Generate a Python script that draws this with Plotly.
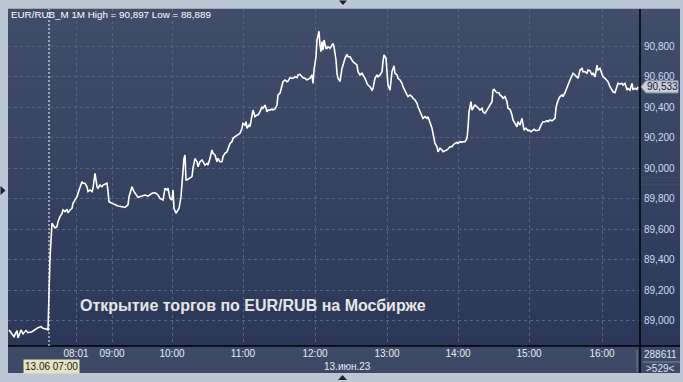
import plotly.graph_objects as go

# ---- data (1-minute bars, EUR/RUB_M, 13.06.2023) ----
bars = [1, 4, 6, 9, 10, 13, 15, 18, 20, 24, 27, 30, 33, 35, 38, 40,
        42, 43, 44, 45, 47, 49, 50, 52, 54, 55, 57, 59, 60, 62, 64, 65, 67, 69, 70, 72, 74, 75, 77, 79,
        80, 82, 84, 85, 87, 89, 90, 92, 94, 95, 97, 99, 100, 101, 104, 107, 110, 114, 117, 120,
        121, 123, 124, 126, 128, 130, 134, 137, 140, 144, 147, 150, 152, 155, 157, 159, 160, 162, 164, 165,
        166, 168, 169, 171, 173, 174, 175, 176, 177, 178, 179, 181, 184, 185, 187, 189, 190, 192, 194, 195,
        197, 199, 200, 202, 204, 205, 207, 209, 210, 212, 214, 215, 217, 219, 220, 222, 224, 225, 227, 229,
        230, 232, 234, 235, 237, 238, 239, 241, 242, 244, 245, 246, 247, 249, 250, 252, 254, 255, 257, 259,
        260, 262, 264, 265, 267, 269, 270, 272, 274, 275, 277, 279, 280, 282, 284, 285, 287, 289, 290, 292,
        294, 295, 297, 299, 300, 302, 304, 305, 306, 308, 309, 310, 311, 312, 313, 314, 315, 316, 318, 319,
        320, 322, 324, 325, 326, 328, 329, 330, 332, 333, 334, 336, 337, 339, 340, 342, 344, 345, 347, 349,
        350, 352, 354, 355, 357, 359, 360, 362, 364, 365, 367, 369, 370, 372, 374, 375, 376, 378, 379, 380,
        382, 383, 384, 386, 387, 389, 390, 392, 394, 395, 397, 399, 400, 402, 404, 405, 407, 409, 410, 412,
        414, 415, 417, 419, 420, 422, 424, 425, 427, 429, 430, 432, 434, 435, 437, 439, 440, 442, 444, 445,
        447, 449, 450, 452, 454, 455, 457, 459, 460, 461, 463, 464, 465, 467, 469, 470, 472, 474, 475, 477,
        479, 480, 482, 484, 485, 486, 488, 489, 491, 492, 494, 495, 497, 499, 500, 502, 504, 505, 507, 509,
        510, 512, 514, 515, 516, 518, 520, 521, 523, 525, 526, 528, 530, 531, 533, 534, 535, 537, 539, 540,
        542, 544, 545, 547, 548, 549, 551, 552, 554, 555, 557, 559, 560, 562, 564, 565, 567, 569, 570, 572,
        574, 575, 577, 579, 580, 582, 584, 585, 587, 589, 590, 592, 594, 595, 597, 599, 600, 602, 604, 605,
        607, 609, 610, 612, 614, 615, 617, 619, 620, 622, 624, 625, 627, 629, 630]

prices = [88941, 88919, 88897, 88937, 88889, 88941, 88915, 88937, 88923, 88930, 88946, 88956, 88963, 88952, 88948, 88941,
          89412, 89498, 89640, 89629, 89609, 89617, 89650, 89683, 89705, 89727, 89716, 89731, 89709, 89727, 89738, 89771, 89792, 89814, 89836, 89879, 89912, 89902, 89902, 89879,
          89847, 89858, 89847, 89869, 89967, 89879, 89869, 89890, 89879, 89890, 89897, 89902, 89847, 89781, 89771, 89760, 89753, 89748, 89744, 89760,
          89814, 89858, 89879, 89847, 89825, 89810, 89818, 89825, 89818, 89836, 89840, 89825, 89803, 89792, 89869, 89858, 89869, 89803, 89792, 89858,
          89738, 89705, 89716, 89738, 89814, 89912, 90000, 90065, 90087, 89923, 89923, 89934, 89945, 90000, 90065, 90043, 90010, 90043, 90054, 90043,
          90021, 90032, 90021, 90065, 90120, 90098, 90087, 90043, 90065, 90043, 90043, 90076, 90098, 90108, 90131, 90163, 90174, 90196, 90207, 90218,
          90218, 90229, 90262, 90294, 90283, 90305, 90262, 90283, 90272, 90349, 90381, 90360, 90338, 90349, 90349, 90370, 90403, 90393, 90414, 90370,
          90381, 90381, 90388, 90381, 90388, 90414, 90480, 90491, 90534, 90567, 90578, 90567, 90571, 90593, 90589, 90589, 90599, 90593, 90611, 90615,
          90599, 90593, 90589, 90578, 90584, 90589, 90611, 90556, 90643, 90730, 90840, 90872, 90897, 90807, 90763, 90829, 90774, 90840, 90785, 90785,
          90796, 90785, 90807, 90818, 90796, 90709, 90622, 90589, 90567, 90611, 90654, 90698, 90720, 90746, 90730, 90730, 90709, 90698, 90687, 90676,
          90632, 90611, 90622, 90611, 90589, 90556, 90545, 90534, 90512, 90523, 90589, 90611, 90599, 90611, 90632, 90698, 90742, 90720, 90611, 90545,
          90512, 90567, 90632, 90671, 90622, 90611, 90589, 90578, 90556, 90534, 90501, 90480, 90469, 90480, 90469, 90458, 90447, 90425, 90403, 90370,
          90349, 90327, 90338, 90327, 90338, 90305, 90262, 90229, 90163, 90141, 90108, 90131, 90120, 90108, 90113, 90120, 90126, 90141, 90141, 90152,
          90163, 90170, 90163, 90174, 90170, 90174, 90174, 90196, 90262, 90370, 90436, 90381, 90393, 90414, 90403, 90393, 90381, 90393, 90370, 90360,
          90381, 90393, 90414, 90436, 90512, 90517, 90501, 90495, 90495, 90480, 90469, 90458, 90469, 90436, 90393, 90386, 90349, 90316, 90294, 90272,
          90305, 90283, 90327, 90272, 90250, 90262, 90246, 90250, 90239, 90250, 90255, 90246, 90250, 90250, 90283, 90298, 90305, 90305, 90311, 90305,
          90316, 90311, 90316, 90327, 90393, 90425, 90458, 90469, 90480, 90469, 90495, 90523, 90545, 90578, 90611, 90622, 90611, 90599, 90589, 90643,
          90654, 90632, 90632, 90622, 90643, 90639, 90611, 90622, 90599, 90676, 90643, 90654, 90611, 90599, 90589, 90578, 90567, 90534, 90512, 90501,
          90495, 90534, 90556, 90552, 90556, 90545, 90556, 90512, 90523, 90512, 90556, 90517, 90523, 90517, 90533]

tick_bars = [68, 104, 164, 235, 307, 379, 450, 521, 594]
tick_labels = ["08:01", "09:00", "10:00", "11:00", "12:00", "13:00", "14:00", "15:00", "16:00"]
y_ticks = [89000, 89200, 89400, 89600, 89800, 90000, 90200, 90400, 90600, 90800]
y_tick_labels = ["89,000", "89,200", "89,400", "89,600", "89,800", "90,000", "90,200", "90,400", "90,600", "90,800"]
open_bar = 41
last_price = 90533
last_price_label = "90,533"
title_text = "EUR/RUB_M 1M High = 90,897 Low = 88,889"
note_text = "Открытие торгов по EUR/RUB на Мосбирже"
date_label = "13.06 07:00"
day_label = "13.июн.23"
corner_top = "288611"
corner_bottom = ">529<"

FONT = "Liberation Sans, Arial, sans-serif"

# ---- pixel helpers for decorations ----
W, H = 683, 382
L, R, T, B = 8, 640, 9, 346
def px(x):
    return (x - L) / (R - L)
def py(y):
    return (B - y) / (B - T)

fig = go.Figure()
fig.add_trace(go.Scatter(x=bars, y=prices, mode="lines",
                         line=dict(color="#ffffff", width=1.6), hoverinfo="skip"))

shapes = []
# gradient background (plot + right panel)
n = 48
top_c = (0x41, 0x4e, 0x6a)
bot_c = (0x2b, 0x37, 0x57)
for i in range(n):
    t = (i + 0.5) / n
    c = tuple(int(round(top_c[k] + (bot_c[k] - top_c[k]) * t)) for k in range(3))
    y0 = 1 - i / n
    y1 = 1 - (i + 1) / n
    shapes.append(dict(type="rect", xref="paper", yref="paper", x0=0, x1=px(680),
                       y0=y1 - 0.001, y1=y0 + 0.001, fillcolor="rgb(%d,%d,%d)" % c,
                       line=dict(width=0), layer="below"))
# bottom axis panel
shapes.append(dict(type="rect", xref="paper", yref="paper", x0=0, x1=px(680), y0=py(373), y1=0,
                   fillcolor="#3d4a66", line=dict(width=0), layer="below"))
# separators
shapes.append(dict(type="line", xref="paper", yref="paper", x0=1, x1=1, y0=py(373), y1=1,
                   line=dict(color="#000000", width=1.5)))
shapes.append(dict(type="line", xref="paper", yref="paper", x0=0, x1=px(680), y0=0, y1=0,
                   line=dict(color="#000000", width=1.5)))
shapes.append(dict(type="line", xref="paper", yref="paper", x0=px(637), x1=px(637), y0=py(350), y1=py(372),
                   line=dict(color="#6e7b93", width=1)))
shapes.append(dict(type="line", xref="paper", yref="paper", x0=px(643), x1=px(680), y0=py(362), y1=py(362),
                   line=dict(color="#7d8aa2", width=1)))
# session opening line
shapes.append(dict(type="line", xref="x", yref="paper", x0=open_bar, x1=open_bar, y0=0, y1=1,
                   line=dict(color="#ffffff", width=1, dash="2px,2px")))
# navigation triangles
shapes.append(dict(type="path", xref="paper", yref="paper",
                   path="M %f,%f L %f,%f L %f,%f Z" % (px(339), py(0.5), px(347), py(0.5), px(343), py(5)),
                   fillcolor="#1b2233", line=dict(width=0)))
shapes.append(dict(type="path", xref="paper", yref="paper",
                   path="M %f,%f L %f,%f L %f,%f Z" % (px(338), py(380), px(347), py(380), px(342.5), py(375)),
                   fillcolor="#1b2233", line=dict(width=0)))
shapes.append(dict(type="path", xref="paper", yref="paper",
                   path="M %f,%f L %f,%f L %f,%f Z" % (px(0.5), py(186), px(0.5), py(195), px(5.5), py(190.5)),
                   fillcolor="#1b2233", line=dict(width=0)))
# price tag
shapes.append(dict(type="path", xref="paper", xsizemode="pixel", xanchor=1,
                   yref="y", ysizemode="pixel", yanchor=last_price,
                   path="M 1,0 L 6,6 L 38,6 L 38,-6 L 6,-6 Z",
                   fillcolor="#c9ced6", line=dict(color="#9aa3b0", width=1)))

annotations = [
    dict(text=title_text, xref="paper", yref="paper", x=px(9), y=py(15), xanchor="left", yanchor="middle",
         showarrow=False, font=dict(family=FONT, size=9.8, color="#ffffff")),
    dict(text="<b>" + note_text + "</b>", xref="paper", yref="paper", x=px(253), y=py(305),
         xanchor="center", yanchor="middle",
         showarrow=False, font=dict(family=FONT, size=16, color="#e6e6e6")),
    dict(text=date_label, xref="paper", yref="paper", x=px(23), y=py(366.5), xanchor="left", yanchor="middle",
         showarrow=False, bgcolor="#e6e2c2", borderpad=1, font=dict(family=FONT, size=10, color="#1a1a1a")),
    dict(text=day_label, xref="paper", yref="paper", x=px(347), y=py(366.5), xanchor="center", yanchor="middle",
         showarrow=False, font=dict(family=FONT, size=10, color="#e6edf5")),
    dict(text=corner_top, xref="paper", yref="paper", x=px(660), y=py(354), xanchor="center", yanchor="middle",
         showarrow=False, font=dict(family=FONT, size=10, color="#dde6f2")),
    dict(text=corner_bottom, xref="paper", yref="paper", x=px(660), y=py(368), xanchor="center", yanchor="middle",
         showarrow=False, font=dict(family=FONT, size=10, color="#dde6f2")),
    dict(text=last_price_label, xref="paper", yref="y", x=px(645), y=last_price,
         xanchor="left", yanchor="middle", showarrow=False,
         font=dict(family=FONT, size=10, color="#14203a")),
]

fig.update_layout(
    width=W, height=H,
    margin=dict(l=L, r=W - R, t=T, b=H - B, pad=0),
    paper_bgcolor="#bcc7d6",
    plot_bgcolor="#35425f",
    showlegend=False,
    font=dict(family=FONT, size=10),
    shapes=shapes,
    annotations=annotations,
    xaxis=dict(range=[0, R - L], tickvals=tick_bars, ticktext=tick_labels,
               showgrid=True, gridcolor="#56647f", griddash="3px,3px", gridwidth=1,
               zeroline=False, showline=False, ticks="", fixedrange=True,
               tickfont=dict(family=FONT, size=10, color="#e6edf5")),
    yaxis=dict(side="right", range=[88836, 91043], tickvals=y_ticks, ticktext=y_tick_labels,
               showgrid=True, gridcolor="#56647f", griddash="3px,3px", gridwidth=1,
               zeroline=False, showline=False, ticks="", fixedrange=True, ticklabelstandoff=3,
               tickfont=dict(family=FONT, size=10, color="#cddcf5")),
)

fig.write_html("out.html")
